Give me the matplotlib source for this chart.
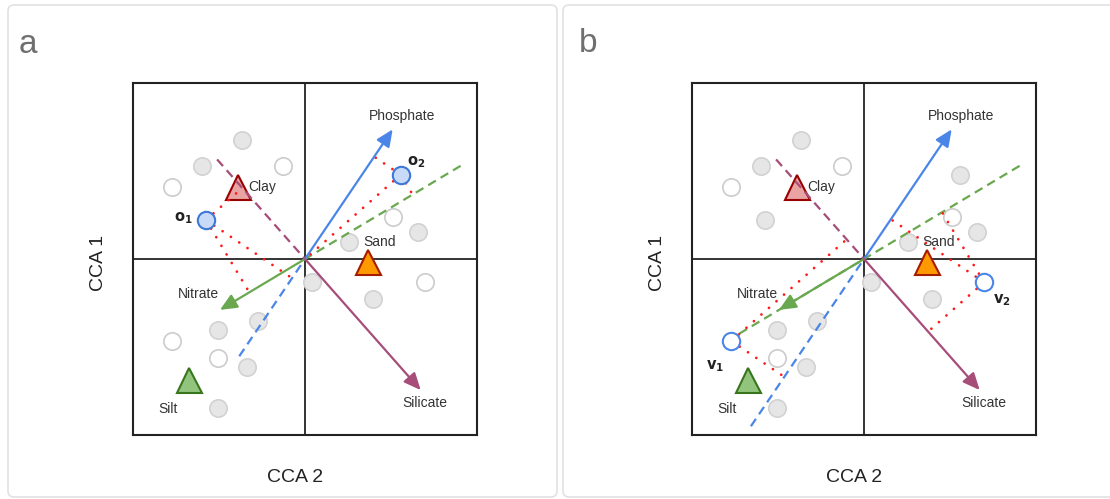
import numpy as np
import matplotlib.pyplot as plt
from matplotlib.patches import FancyBboxPatch

plt.rcParams['font.family'] = ['Liberation Sans', 'DejaVu Sans']

# environmental vectors (arrow tips, data units)
vec_names = ['Phosphate', 'Nitrate', 'Silicate']
vec_x = [5.01, -4.86, 6.61]
vec_y = [7.41, -2.91, -7.49]
vec_colors = ['#4a86e8', '#6aa84f', '#a64d79']
vec_label_x = [5.53, -6.10, 6.86]
vec_label_y = [8.17, -2.02, -8.25]

# dashed extension of each vector, as multiples of the vector
dash_lo_a = [-0.75, -1.83, -0.76]
dash_hi_a = [0, 0, 0]
dash_lo_b = [-1.29, -1.83, -0.76]
dash_hi_b = [0, 1.57, 0]

# sediment classes
sed_names = ['Clay', 'Sand', 'Silt']
sed_x = [-3.84, 3.62, -6.63]
sed_y = [4.11, -0.20, -6.89]
sed_face = ['#eaa3a3', '#ff9900', '#93c47d']
sed_edge = ['#990000', '#a61c00', '#38761d']
sed_label_x = [-2.43, 4.29, -7.85]
sed_label_y = [4.11, 0.95, -8.57]

# background samples, panel a
gray_a_x = [-3.62, -5.90, 2.51, 6.47, 0.38, 3.87, -4.95, -2.70, -3.30, -4.95]
gray_a_y = [6.80, 5.31, 0.95, 1.53, -1.33, -2.29, -4.06, -3.54, -6.15, -8.50]
white_a_x = [-1.24, -7.58, 5.05, 6.86, -7.58, -4.95]
white_a_y = [5.31, 4.13, 2.38, -1.33, -4.69, -5.67]

# background samples, panel b
gray_b_x = gray_a_x + [-5.66, 5.47]
gray_b_y = gray_a_y + [2.23, 4.82]
white_b_x = [-1.24, -7.58, 5.05, -4.95]
white_b_y = [5.31, 4.13, 2.38, -5.67]

# highlighted samples
site_a_x = [-5.66, 5.47]
site_a_y = [2.23, 4.82]
site_a_lab = [r'$\mathbf{o_1}$', r'$\mathbf{o_2}$']
site_a_lab_x = [-6.95, 6.38]
site_a_lab_y = [2.33, 5.56]

site_b_x = [-7.58, 6.86]
site_b_y = [-4.69, -1.33]
site_b_lab = [r'$\mathbf{v_1}$', r'$\mathbf{v_2}$']
site_b_lab_x = [-8.51, 7.87]
site_b_lab_y = [-6.15, -2.34]

XL = 9.83
YL = 10.06


def draw_panel(ax, gx, gy, wx, wy, sx, sy, slab, slx, sly, dlo, dhi, filled):
    ax.set_xlim(-XL, XL)
    ax.set_ylim(-YL, YL)
    ax.set_xticks([])
    ax.set_yticks([])
    for sp in ax.spines.values():
        sp.set_linewidth(1.5)
        sp.set_color('#222222')
    ax.axhline(0, color='#111111', lw=1.2, zorder=1)
    ax.axvline(0, color='#111111', lw=1.2, zorder=1)

    ax.plot(gx, gy, 'o', ms=12.5, mfc='#e6e6e6', mec='#d2d2d2', mew=1.2, zorder=2)
    ax.plot(wx, wy, 'o', ms=12.5, mfc='white', mec='#cccccc', mew=1.2, zorder=2)

    for i in range(3):
        ax.plot(sed_x[i], sed_y[i], '^', ms=18, mfc=sed_face[i], mec=sed_edge[i],
                mew=1.5, zorder=3)
        ax.text(sed_label_x[i], sed_label_y[i], sed_names[i], fontsize=10,
                color='#333333', ha='center', va='center', zorder=8)

    units = []
    for i in range(3):
        v = np.array([vec_x[i], vec_y[i]])
        units.append(v / np.linalg.norm(v))
        ax.plot([dlo[i] * v[0], dhi[i] * v[0]], [dlo[i] * v[1], dhi[i] * v[1]],
                color=vec_colors[i], lw=1.6, ls=(0, (4, 2.5)), zorder=4)
        ax.annotate('', xy=(v[0], v[1]), xytext=(0, 0),
                    arrowprops=dict(arrowstyle='-|>,head_length=0.85,head_width=0.38',
                                    color=vec_colors[i], lw=1.6, mutation_scale=12,
                                    shrinkA=0, shrinkB=0), zorder=5)
        ax.text(vec_label_x[i], vec_label_y[i], vec_names[i], fontsize=10,
                color='#333333', ha='center', va='center', zorder=8)

    # perpendicular projections of the highlighted samples
    for j in range(len(sx)):
        p = np.array([sx[j], sy[j]])
        for u in units:
            foot = np.dot(p, u) * u
            ax.plot([p[0], foot[0]], [p[1], foot[1]], color='#ff1a1a', lw=2.0,
                    ls=(0, (0.01, 3.6)), dash_capstyle='round', zorder=4)
        if filled:
            ax.plot(sx[j], sy[j], 'o', ms=12.5, mfc='#c9daf8', mec='#3c78d8',
                    mew=1.5, zorder=6)
        else:
            ax.plot(sx[j], sy[j], 'o', ms=12.5, mfc='white', mec='#4a86e8',
                    mew=1.5, zorder=6)
        ax.text(slx[j], sly[j], slab[j], fontsize=10.5, color='#222222',
                ha='center', va='center', zorder=8)

    ax.text(0.471, -0.122, 'CCA 2', transform=ax.transAxes, fontsize=14,
            color='#222222', ha='center', va='center')
    ax.text(-0.1, 0.49, 'CCA 1', transform=ax.transAxes, fontsize=14,
            color='#222222', ha='center', va='center', rotation=90)


fig = plt.figure(figsize=(11.1, 4.99), dpi=100)

bg = fig.add_axes([0, 0, 1, 1], zorder=-1)
bg.set_xlim(0, 1110)
bg.set_ylim(499, 0)
bg.axis('off')
for x0, x1 in [(8, 557), (563, 1118)]:
    bg.add_patch(FancyBboxPatch((x0, 5), x1 - x0, 492,
                                boxstyle='round,pad=0,rounding_size=6',
                                fc='white', ec='#e2e2e2', lw=1.2))
bg.text(19, 53, 'a', fontsize=24, color='#6f6f6f', va='baseline')
bg.text(579, 52, 'b', fontsize=24, color='#6f6f6f', va='baseline')

W, H = 1110, 499
ax_a = fig.add_axes([133 / W, (H - 435) / H, 344 / W, 352 / H])
ax_b = fig.add_axes([692 / W, (H - 435) / H, 344 / W, 352 / H])

draw_panel(ax_a, gray_a_x, gray_a_y, white_a_x, white_a_y, site_a_x, site_a_y,
           site_a_lab, site_a_lab_x, site_a_lab_y, dash_lo_a, dash_hi_a, True)
draw_panel(ax_b, gray_b_x, gray_b_y, white_b_x, white_b_y, site_b_x, site_b_y,
           site_b_lab, site_b_lab_x, site_b_lab_y, dash_lo_b, dash_hi_b, False)

fig.savefig('out.png', dpi=100)
